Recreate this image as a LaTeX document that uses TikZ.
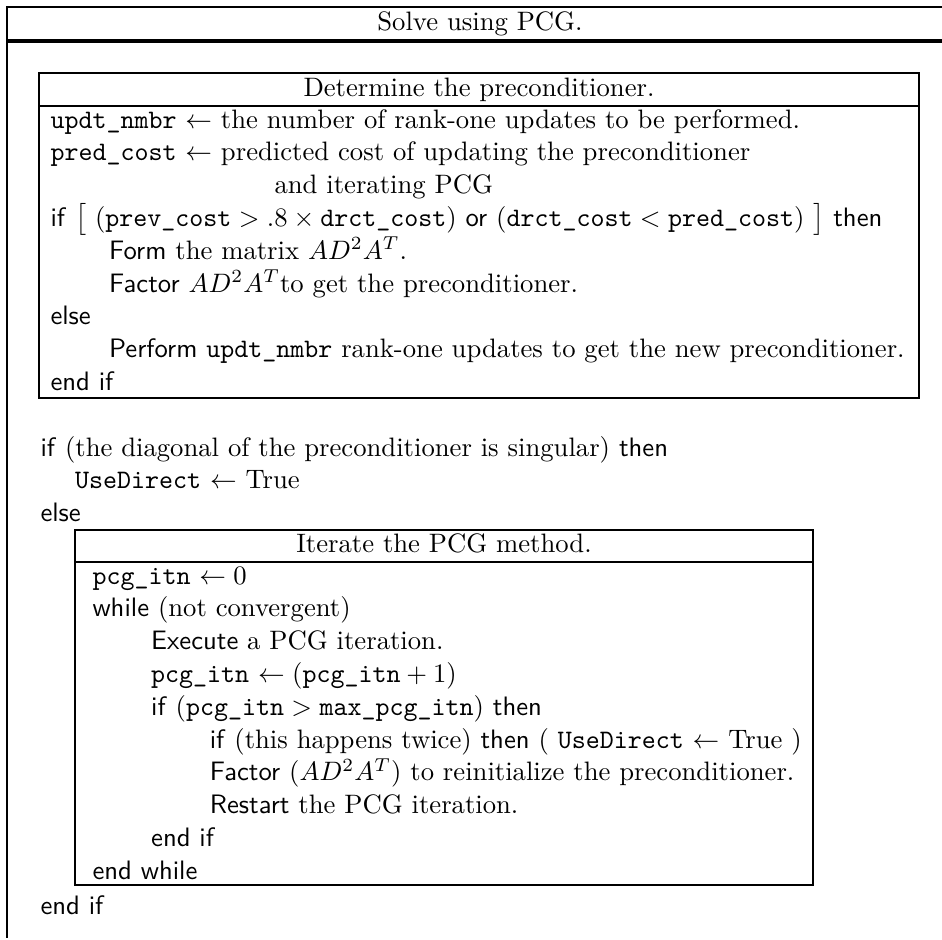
\documentclass[tikz,border=0pt]{standalone}
\usetikzlibrary{positioning}
\tikzstyle{codeline} = [anchor=west, text width=340pt, align=left, inner sep=0pt, text height=7pt, text depth=2.5pt]
\tikzstyle{boxtitle} = [inner sep=0pt, text height=7pt, text depth=2.5pt]
\tikzstyle{frame} = [line width=0.8pt]
\tikzstyle{heavy} = [line width=1.2pt]
\newcommand{\keyw}[1]{\textsf{#1}}
\newcommand{\vname}[1]{\texttt{#1}}
\newcommand{\codeindent}{\hspace*{22pt}}

\begin{document}
\begin{tikzpicture}[x=0.375pt, y=-0.375pt, node distance=12.3pt]
\useasboundingbox (0,0) rectangle (942,939);

% outer frame
\draw [frame] (942,7) -- (7,7) -- (7,938);
\draw [heavy] (7,41) -- (942,41);
\node (solve) [boxtitle] at (480,24) {Solve using PCG.};

% preconditioner box
\draw [frame] (39,73) rectangle (919,398);
\draw [frame] (39,106) -- (919,106);
\node (detTitle) [boxtitle] at (479,90) {Determine the preconditioner.};

\node (updt) [codeline] at (50,122) {\vname{updt\_nmbr} $\leftarrow$ the number of rank-one updates to be performed.};
\node (pred) [codeline, below of=updt] {\vname{pred\_cost} $\leftarrow$ predicted cost of updating the preconditioner};
\node (iterpcg) [codeline, below of=pred] {\hspace*{84pt}and iterating PCG};
\node (ifcost) [codeline, below of=iterpcg] {\keyw{if} $\bigl[$ ($\vname{prev\_cost} > .8 \times \vname{drct\_cost}$) \keyw{or} ($\vname{drct\_cost} < \vname{pred\_cost}$) $\bigr]$ \keyw{then}};
\node (form) [codeline, below of=ifcost] {\codeindent\keyw{Form} the matrix $AD^2A^T$.};
\node (factor) [codeline, below of=form] {\codeindent\keyw{Factor} $AD^2A^T$to get the preconditioner.};
\node (elseA) [codeline, below of=factor] {\keyw{else}};
\node (perform) [codeline, below of=elseA] {\codeindent\keyw{Perform} \vname{updt\_nmbr} rank-one updates to get the new preconditioner.};
\node (endifA) [codeline, below of=perform] {\keyw{end if}};

% singular test
\node (ifdiag) [codeline] at (40,450) {\keyw{if} (the diagonal of the preconditioner is singular) \keyw{then}};
\node (usedir) [codeline, below of=ifdiag] {\hspace*{13pt}\vname{UseDirect} $\leftarrow$ True};
\node (elseB) [codeline, below of=usedir] {\keyw{else}};

% PCG iteration box
\draw [frame] (75,530) rectangle (813,885);
\draw [frame] (75,562) -- (813,562);
\node (itTitle) [boxtitle] at (444,546) {Iterate the PCG method.};

\node (pcginit) [codeline] at (92,578) {\vname{pcg\_itn} $\leftarrow 0$};
\node (while) [codeline, below of=pcginit] {\keyw{while} (not convergent)};
\node (execute) [codeline, below of=while] {\codeindent\keyw{Execute} a PCG iteration.};
\node (pcginc) [codeline, below of=execute] {\codeindent\vname{pcg\_itn} $\leftarrow (\vname{pcg\_itn} + 1)$};
\node (ifmax) [codeline, below of=pcginc] {\codeindent\keyw{if} ($\vname{pcg\_itn} > \vname{max\_pcg\_itn}$) \keyw{then}};
\node (iftwice) [codeline, below of=ifmax] {\codeindent\codeindent\keyw{if} (this happens twice) \keyw{then} ( \vname{UseDirect} $\leftarrow$ True )};
\node (refactor) [codeline, below of=iftwice] {\codeindent\codeindent\keyw{Factor} ($AD^2A^T$) to reinitialize the preconditioner.};
\node (restart) [codeline, below of=refactor] {\codeindent\codeindent\keyw{Restart} the PCG iteration.};
\node (endifB) [codeline, below of=restart] {\codeindent\keyw{end if}};
\node (endwhile) [codeline, below of=endifB] {\keyw{end while}};

\node (endifC) [codeline] at (40,908) {\keyw{end if}};

\end{tikzpicture}
\end{document}
